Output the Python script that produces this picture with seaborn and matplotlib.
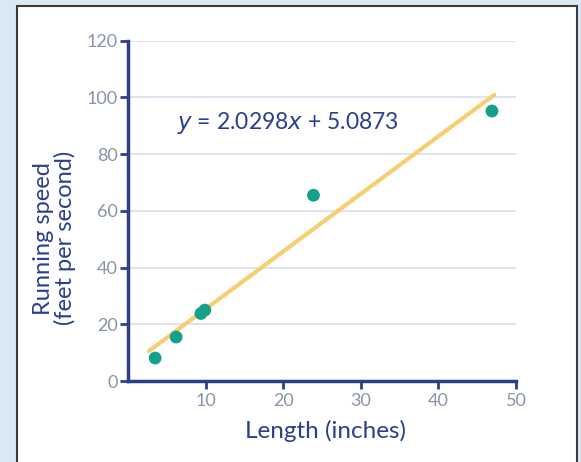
#!/usr/bin/env python3
"""Running speed vs. length scatter with linear fit."""

import numpy as np
import pandas as pd
import matplotlib
matplotlib.use("Agg")
import matplotlib.pyplot as plt
import seaborn as sns
from matplotlib.patches import Rectangle

# Data
length_in = [3.5, 6.2, 9.4, 9.9, 23.9, 46.9]
speed_fps = [8.1, 15.5, 23.8, 25.0, 65.5, 95.2]
slope = 2.0298
intercept = 5.0873
fit_x = [2.7, 47.2]
y_ticks = [0, 20, 40, 60, 80, 100, 120]
x_ticks = [10, 20, 30, 40, 50]

NAVY = "#2b3f8c"
TICK_GREY = "#8a93ad"
TEAL = "#14a08a"
YELLOW = "#f7cf72"
GRID = "#dddcee"

sns.set_theme(style="white")
plt.rcParams['font.family'] = ['Lato', 'DejaVu Sans']

points = pd.DataFrame({'length': length_in, 'speed': speed_fps})
fit = pd.DataFrame({'length': fit_x})
fit['speed'] = slope * fit['length'] + intercept

fig = plt.figure(figsize=(5.81, 4.62), dpi=100)
fig.patch.set_facecolor("#d9e8f4")

# white panel with dark frame, kept behind the axes
fig.patches.append(Rectangle((17 / 581, -0.05), (577 - 17) / 581, 1.05 - 6 / 462,
                             transform=fig.transFigure, facecolor="white",
                             edgecolor="#3a3a3a", linewidth=1.5, zorder=-10))

ax = fig.add_axes([128 / 581, 1 - 381 / 462, (516 - 128) / 581, (381 - 40.7) / 462])
ax.set_facecolor("none")
ax.set_zorder(5)

for yv in y_ticks[1:]:
    ax.axhline(yv, color=GRID, linewidth=1.2, zorder=0)

sns.lineplot(data=fit, x='length', y='speed', color=YELLOW, linewidth=3,
             ax=ax, zorder=2)
sns.scatterplot(data=points, x='length', y='speed', color=TEAL, s=85,
                edgecolor="none", ax=ax, zorder=3)

ax.set_xlim(0, 50)
ax.set_ylim(0, 120)
ax.set_xticks(x_ticks)
ax.set_yticks(y_ticks)
ax.tick_params(axis='both', colors=NAVY, labelcolor=TICK_GREY, labelsize=13,
               length=6, width=2, direction='out')
ax.tick_params(axis='x', pad=3)
ax.tick_params(axis='y', pad=1.5)
ax.tick_params(left=True, bottom=True)

for side in ['top', 'right']:
    ax.spines[side].set_visible(False)
for side in ['left', 'bottom']:
    ax.spines[side].set_color(NAVY)
    ax.spines[side].set_linewidth(2.5)

ax.set_xlabel("Length (inches)", color=NAVY, fontsize=17.5)
ax.xaxis.set_label_coords(0.51, -0.115)
ax.set_ylabel("Running speed\n(feet per second)", color=NAVY, fontsize=17,
              linespacing=0.95)
ax.yaxis.set_label_coords(-0.135, 0.42)

ax.text(0.126, 0.758, r"$\it{y}$ = 2.0298$\it{x}$ + 5.0873", transform=ax.transAxes,
        color=NAVY, fontsize=16.5, va='center', ha='left')

fig.savefig("out.png", dpi=100, facecolor=fig.get_facecolor())
